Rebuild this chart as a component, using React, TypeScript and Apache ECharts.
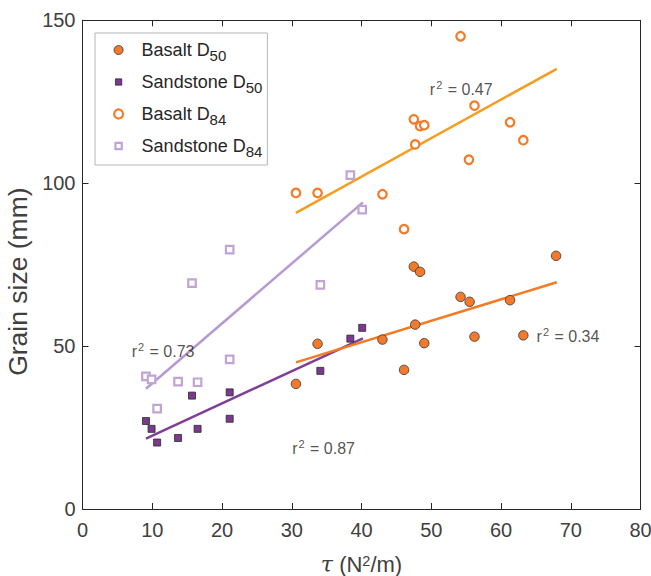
import React, { useEffect, useRef } from 'react';
import * as echarts from 'echarts';

// ---- data ----
const basaltD50X = [30.6, 33.7, 43.0, 46.1, 47.5, 47.7, 48.4, 49.0, 54.2, 55.5, 56.2, 61.3, 63.2, 67.9];
const basaltD50Y = [38.4, 50.7, 52.0, 42.7, 74.4, 56.6, 72.8, 50.9, 65.1, 63.6, 52.9, 64.1, 53.3, 77.7];

const basaltD84X = [30.6, 33.7, 43.0, 46.1, 47.5, 47.7, 48.4, 49.0, 54.2, 55.4, 56.2, 61.3, 63.2];
const basaltD84Y = [97.0, 97.0, 96.6, 85.9, 119.6, 111.9, 117.5, 117.8, 145.1, 107.2, 123.8, 118.7, 113.2];

const sandD50X = [9.1, 9.9, 10.7, 13.7, 15.7, 16.5, 21.1, 21.1, 34.1, 38.4, 40.1];
const sandD50Y = [27.0, 24.6, 20.4, 21.8, 34.8, 24.6, 35.8, 27.7, 42.4, 52.3, 55.6];

const sandD84X = [9.1, 9.9, 10.7, 13.7, 15.7, 16.5, 21.1, 21.1, 34.1, 38.4, 40.1];
const sandD84Y = [40.7, 39.8, 30.8, 39.1, 69.3, 38.9, 45.9, 79.6, 68.8, 102.5, 91.9];

// regression line end points
const basaltD50FitX = [30.6, 68.0];
const basaltD50FitY = [45.0, 69.6];
const basaltD84FitX = [30.6, 68.0];
const basaltD84FitY = [90.9, 135.1];
const sandD50FitX = [9.1, 40.2];
const sandD50FitY = [21.6, 52.4];
const sandD84FitX = [9.1, 40.2];
const sandD84FitY = [36.9, 94.1];

// r^2 annotations (left edge x, centre y in data units)
const annotX = [49.8, 65.1, 7.05, 30.06];
const annotY = [128.9, 52.9, 48.3, 18.6];
const annotText = ['0.47', '0.34', '0.73', '0.87'];

const legendNames = ['Basalt D50', 'Sandstone D50', 'Basalt D84', 'Sandstone D84'];

const xTicks = { min: 0, max: 80, interval: 10 };
const yTicks = { min: 0, max: 150, interval: 50 };

const FONT = '"Liberation Sans", Arial, Helvetica, sans-serif';
const AXIS = '#262626';
const TXT = '#404040';

const C_BAS50 = '#F37A2A';
const C_BAS84 = '#F47A28';
const C_SAN50 = '#7B3A8F';
const C_SAN84 = '#C1A3D6';
const L_BAS50 = '#F47A23';
const L_BAS84 = '#F69C1F';
const L_SAN50 = '#7F3F98';
const L_SAN84 = '#B79AD2';

// small square legend icon inside a 10x10 box
const SQUARE_ICON = 'path://M0,0M10,10M1.5,1.5L8.5,1.5L8.5,8.5L1.5,8.5Z';

const zip = (xs: number[], ys: number[]) => xs.map((x, i) => [x, ys[i]]);

export default function App() {
  const ref = useRef<HTMLDivElement>(null);
  useEffect(() => {
    document.body.style.margin = '0';
    const chart = echarts.init(ref.current!, null, { renderer: 'svg' });

    const axisCommon = {
      type: 'value' as const,
      splitLine: { show: false },
      axisLine: { show: true, onZero: false, lineStyle: { color: AXIS, width: 1 } },
      axisTick: { show: true, inside: true, length: 6, lineStyle: { color: AXIS, width: 1 } },
    };

    const lineSeries = (name: string, xs: number[], ys: number[], color: string) => ({
      name,
      type: 'line',
      data: zip(xs, ys),
      symbol: 'none',
      lineStyle: { color, width: 2.5 },
      silent: true,
      z: 2,
    });

    const option: any = {
      animation: false,
      grid: {
        left: 82.5,
        right: 10.5,
        top: 20.3,
        bottom: 67,
        containLabel: false,
        outerBoundsMode: 'none',
      },
      xAxis: [
        {
          ...axisCommon,
          ...xTicks,
          position: 'bottom',
          axisLabel: { fontSize: 20, color: TXT, margin: 11, fontFamily: FONT },
          name: '{t|τ}{n| (N}{p|2}{n|/m)}',
          nameLocation: 'middle',
          nameGap: 44,
          nameTextStyle: {
            rich: {
              t: { fontSize: 22, fontStyle: 'italic', fontFamily: '"DejaVu Serif", serif', color: TXT, lineHeight: 22 },
              n: { fontSize: 22, fontFamily: FONT, color: TXT, lineHeight: 22 },
              p: { fontSize: 14.5, fontFamily: FONT, color: TXT, lineHeight: 8, verticalAlign: 'top' },
            },
          },
        },
        {
          ...axisCommon,
          ...xTicks,
          position: 'top',
          axisLabel: { show: false },
        },
      ],
      yAxis: [
        {
          ...axisCommon,
          ...yTicks,
          position: 'left',
          axisLabel: { fontSize: 20, color: TXT, margin: 7, fontFamily: FONT },
          name: 'Grain size (mm)',
          nameLocation: 'middle',
          nameGap: 43,
          nameTextStyle: { fontSize: 26.5, color: TXT, fontFamily: FONT, padding: [0, 34, 0, 0] },
        },
        {
          ...axisCommon,
          ...yTicks,
          position: 'right',
          axisLabel: { show: false },
        },
      ],
      legend: {
        orient: 'vertical',
        left: 95,
        top: 33,
        padding: [4, 5, 6, 18],
        itemWidth: 9,
        itemHeight: 9,
        itemGap: 6,
        borderColor: '#b5b5b5',
        borderWidth: 1,
        backgroundColor: '#ffffff',
        selectedMode: false,
        data: [
          { name: legendNames[0], icon: 'circle', itemStyle: { color: C_BAS50, borderColor: '#333333', borderWidth: 0.8 } },
          { name: legendNames[1], icon: SQUARE_ICON, itemStyle: { color: C_SAN50, borderColor: '#2a2a2a', borderWidth: 0.8 } },
          { name: legendNames[2], icon: 'circle', itemStyle: { color: '#ffffff', borderColor: C_BAS84, borderWidth: 2.2 } },
          { name: legendNames[3], icon: SQUARE_ICON, itemStyle: { color: '#ffffff', borderColor: C_SAN84, borderWidth: 2.2 } },
        ],
        formatter: (name: string) => {
          const m = name.match(/^(.*D)(\d+)$/);
          return m ? `{a|${m[1]}}{s|${m[2]}}` : name;
        },
        textStyle: {
          rich: {
            a: { fontSize: 18, fontFamily: FONT, color: AXIS, lineHeight: 22, padding: [0, 0, 0, 13.5] },
            s: { fontSize: 15, fontFamily: FONT, color: AXIS, lineHeight: 15, padding: [11, 0, 0, 0] },
          },
        },
      },
      series: [
        lineSeries('fitB84', basaltD84FitX, basaltD84FitY, L_BAS84),
        lineSeries('fitS84', sandD84FitX, sandD84FitY, L_SAN84),
        lineSeries('fitS50', sandD50FitX, sandD50FitY, L_SAN50),
        lineSeries('fitB50', basaltD50FitX, basaltD50FitY, L_BAS50),
        {
          name: legendNames[2],
          type: 'scatter',
          data: zip(basaltD84X, basaltD84Y),
          symbol: 'circle',
          symbolSize: 8.5,
          itemStyle: { color: '#ffffff', borderColor: C_BAS84, borderWidth: 2.2, opacity: 1 },
          z: 3,
        },
        {
          name: legendNames[3],
          type: 'scatter',
          data: zip(sandD84X, sandD84Y),
          symbol: 'rect',
          symbolSize: 7.5,
          itemStyle: { color: '#ffffff', borderColor: C_SAN84, borderWidth: 2.2, opacity: 1 },
          z: 3,
        },
        {
          name: legendNames[0],
          type: 'scatter',
          data: zip(basaltD50X, basaltD50Y),
          symbol: 'circle',
          symbolSize: 9.5,
          itemStyle: { color: C_BAS50, borderColor: '#333333', borderWidth: 0.8, opacity: 1 },
          z: 4,
        },
        {
          name: legendNames[1],
          type: 'scatter',
          data: zip(sandD50X, sandD50Y),
          symbol: 'rect',
          symbolSize: 7,
          itemStyle: { color: C_SAN50, borderColor: '#2a2a2a', borderWidth: 0.8, opacity: 1 },
          z: 4,
        },
        {
          name: 'annotations',
          type: 'scatter',
          symbolSize: 0,
          silent: true,
          data: annotX.map((x, i) => [x, annotY[i]]),
          label: {
            show: true,
            position: 'right',
            distance: 0,
            formatter: (p: any) => `{r|r}{p|2}{r| = ${annotText[p.dataIndex]}}`,
            rich: {
              r: { fontSize: 16, fontFamily: FONT, color: AXIS, lineHeight: 18 },
              p: { fontSize: 11, fontFamily: FONT, color: AXIS, lineHeight: 11, padding: [0, 1, 9, 1] },
            },
          },
          z: 5,
        },
      ],
    };

    chart.setOption(option);
    return () => chart.dispose();
  }, []);
  return <div ref={ref} style={{ width: 651, height: 576 }} />;
}
